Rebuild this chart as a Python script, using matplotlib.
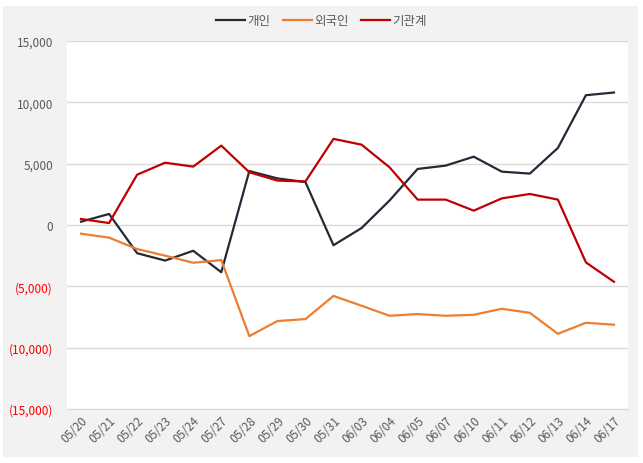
import matplotlib.pyplot as plt
from matplotlib.patches import Rectangle
from matplotlib.ticker import FuncFormatter

plt.rcParams['font.family'] = ['Noto Sans CJK KR', 'DejaVu Sans']

dates = ["05/20", "05/21", "05/22", "05/23", "05/24", "05/27", "05/28", "05/29",
         "05/30", "05/31", "06/03", "06/04", "06/05", "06/07", "06/10", "06/11",
         "06/12", "06/13", "06/14", "06/17"]

# 개인
individual = [270, 900, -2300, -2900, -2100, -3850, 4400, 3800, 3500, -1650,
              -250, 2000, 4570, 4840, 5570, 4350, 4190, 6280, 10580, 10800]
# 외국인
foreign = [-710, -1030, -1960, -2500, -3080, -2860, -9060, -7830, -7670, -5780,
           -6580, -7400, -7260, -7400, -7320, -6830, -7160, -8870, -7970, -8130]
# 기관계
institution = [490, 160, 4100, 5080, 4760, 6470, 4300, 3620, 3550, 7020,
               6550, 4700, 2070, 2070, 1170, 2170, 2530, 2070, -3050, -4630]

fig = plt.figure(figsize=(6.43, 4.64), dpi=100)
fig.patches.append(Rectangle((3 / 643, 6 / 464), 635 / 643, 451 / 464,
                             transform=fig.transFigure, facecolor="#f2f2f2",
                             edgecolor="none", zorder=-10))

ax = fig.add_axes([67 / 643, 54 / 464, 561 / 643, 368 / 464])
ax.set_zorder(1)
ax.set_facecolor("white")

x = range(len(dates))
ax.plot(x, individual, color="#222a35", lw=1.6, label="개인")
ax.plot(x, foreign, color="#ed7d31", lw=1.6, label="외국인")
ax.plot(x, institution, color="#c00000", lw=1.6, label="기관계")

ax.set_xlim(-0.5, len(dates) - 0.5)
ax.set_ylim(-15000, 15000)
ax.set_yticks(range(-15000, 15001, 5000))


def fmt(v, pos):
    if v < 0:
        return "({:,.0f})".format(-v)
    return "{:,.0f}".format(v)


ax.yaxis.set_major_formatter(FuncFormatter(fmt))
ax.grid(axis="y", color="#d9d9d9", lw=1)
ax.set_axisbelow(True)
for s in ["top", "right", "left"]:
    ax.spines[s].set_visible(False)
ax.spines["bottom"].set_color("#d9d9d9")
ax.tick_params(axis="both", length=0, labelsize=8.5, colors="#595959")
ax.tick_params(axis="y", pad=10)

ax.set_xticks(list(x))
ax.set_xticklabels(dates, rotation=45, ha="right", rotation_mode="anchor")
for lbl, v in zip(ax.get_yticklabels(), ax.get_yticks()):
    if v < 0:
        lbl.set_color("#ff0000")

fig.legend(loc="center", bbox_to_anchor=(0.5, 1 - 22 / 464), ncol=3,
           frameon=False, fontsize=9, handlelength=2.3, handletextpad=0.2,
           columnspacing=1.0, labelcolor="#595959")

fig.savefig("out.png", dpi=100)
